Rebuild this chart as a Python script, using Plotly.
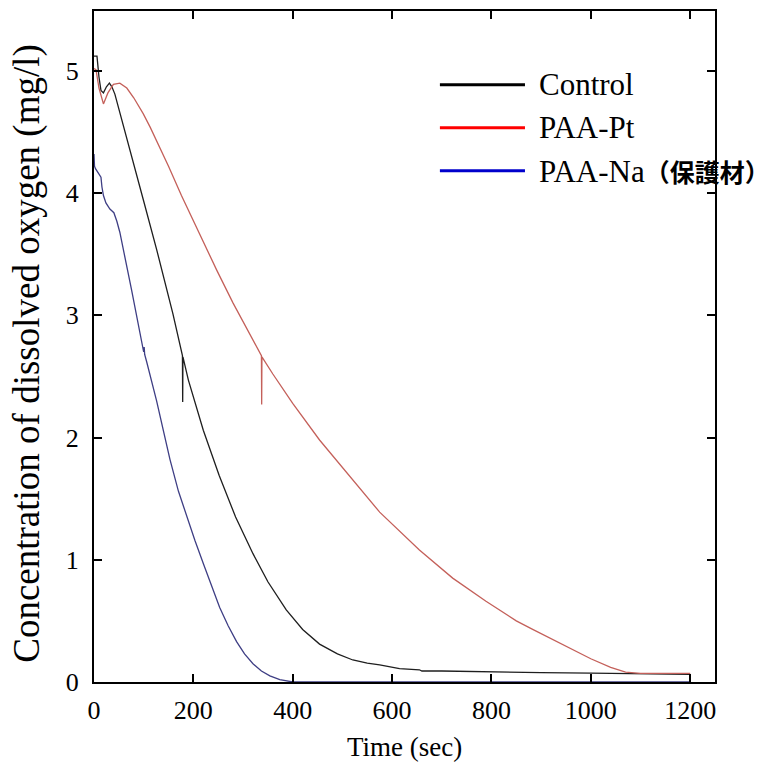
import plotly.graph_objects as go

# Dissolved-oxygen decay curves (time in seconds, concentration in mg/l)
t_control = [0, 6, 10, 14, 19, 25, 31, 36, 42, 59, 79, 99, 126, 159, 178, 178.5, 179,
             190, 200, 220, 252, 285, 320, 350, 387, 420, 454, 490, 521, 550, 575,
             615, 655, 660, 700, 750, 816, 858, 900, 1000, 1100, 1200]
c_control = [5.12, 5.12, 4.95, 4.84, 4.82, 4.87, 4.90, 4.87, 4.81, 4.56, 4.25, 3.95, 3.54, 3.01, 2.67, 2.29, 2.66,
             2.47, 2.33, 2.06, 1.69, 1.35, 1.05, 0.82, 0.59, 0.43, 0.31, 0.23, 0.18, 0.155, 0.14,
             0.11, 0.10, 0.09, 0.09, 0.088, 0.085, 0.078, 0.076, 0.072, 0.067, 0.063]

t_pt = [0, 4, 10, 19, 28, 39, 52, 66, 80, 99, 113, 133, 150, 176, 200, 247, 280, 314, 337, 337.5, 338,
        360, 400, 454, 521, 575, 655, 722, 789, 850, 883, 950, 1000, 1040, 1070, 1100, 1200]
c_pt = [5.02, 5.01, 4.86, 4.73, 4.82, 4.89, 4.90, 4.86, 4.78, 4.65, 4.54, 4.37, 4.22, 3.98, 3.77, 3.37, 3.10, 2.84, 2.67, 2.27, 2.66,
        2.52, 2.28, 1.98, 1.65, 1.39, 1.08, 0.85, 0.66, 0.50, 0.43, 0.29, 0.19, 0.12, 0.08, 0.07, 0.07]

t_na = [0, 1, 3, 8, 14, 16, 19, 24, 32, 40, 46, 52, 59, 67, 76, 92, 100, 101, 102, 106, 116, 126,
        140, 153, 170, 186, 203, 220, 237, 253, 270, 287, 303, 320, 337, 354, 374, 390, 400,
        600, 800, 1000, 1200]
c_na = [4.32, 4.22, 4.20, 4.17, 4.13, 4.05, 3.98, 3.92, 3.87, 3.84, 3.77, 3.68, 3.55, 3.38, 3.20, 2.87, 2.70, 2.74, 2.68, 2.62, 2.46, 2.30,
        2.05, 1.82, 1.56, 1.36, 1.16, 0.97, 0.78, 0.61, 0.46, 0.33, 0.23, 0.15, 0.09, 0.05, 0.02, 0.005, 0.0,
        0.0, 0.0, 0.0, 0.0]

x_ticks = [0, 200, 400, 600, 800, 1000, 1200]
y_ticks = [0, 1, 2, 3, 4, 5]

series = [
    ("Control", t_control, c_control, "#1e1e1e", "#000000"),
    ("PAA-Pt", t_pt, c_pt, "#c4605a", "#ff0000"),
    ("PAA-Na<b><span style='font-family:Noto Sans CJK JP;font-size:25px'>（保護材）</span></b>",
     t_na, c_na, "#3e3e84", "#0000cc"),
]

SERIF = "Liberation Serif, Times New Roman, serif"

fig = go.Figure()
for name, t, c, col, _ in series:
    fig.add_trace(go.Scatter(x=t, y=c, mode="lines", name=name,
                             line=dict(color=col, width=1.3), showlegend=False))

# Hand-placed legend: long sample lines with labels to their right
legend_y = [0.890, 0.826, 0.762]
for (name, _, _, _, key_col), ly in zip(series, legend_y):
    fig.add_shape(type="line", xref="paper", yref="paper",
                  x0=0.557, x1=0.694, y0=ly, y1=ly,
                  line=dict(color=key_col, width=3))
    fig.add_annotation(xref="paper", yref="paper", x=0.713, y=ly,
                       xanchor="left", yanchor="middle", showarrow=False,
                       text=name, font=dict(family=SERIF, size=31, color="black"))

axis_common = dict(showline=True, linecolor="black", linewidth=2, mirror="ticks",
                   ticks="inside", ticklen=8, tickwidth=2, tickcolor="black",
                   showgrid=False, zeroline=False,
                   tickfont=dict(family=SERIF, size=26, color="black"))

fig.update_xaxes(range=[0, 1250], tickvals=x_ticks, ticklabelstandoff=4, **axis_common)
fig.update_yaxes(range=[0, 5.49], tickvals=y_ticks, ticklabelstandoff=8, **axis_common)

fig.add_annotation(xref="paper", yref="paper", x=0.5, y=-0.072, yanchor="top",
                   showarrow=False, text="Time (sec)",
                   font=dict(family=SERIF, size=27, color="black"))
fig.add_annotation(xref="paper", yref="paper", x=-0.107, y=0.49, xanchor="center",
                   textangle=-90, showarrow=False,
                   text="Concentration of dissolved oxygen (mg/l)",
                   font=dict(family=SERIF, size=37, color="black"))

fig.update_layout(width=778, height=777,
                  margin=dict(l=94, r=63, t=9, b=95),
                  paper_bgcolor="white", plot_bgcolor="white")

fig.write_html("out.html")
